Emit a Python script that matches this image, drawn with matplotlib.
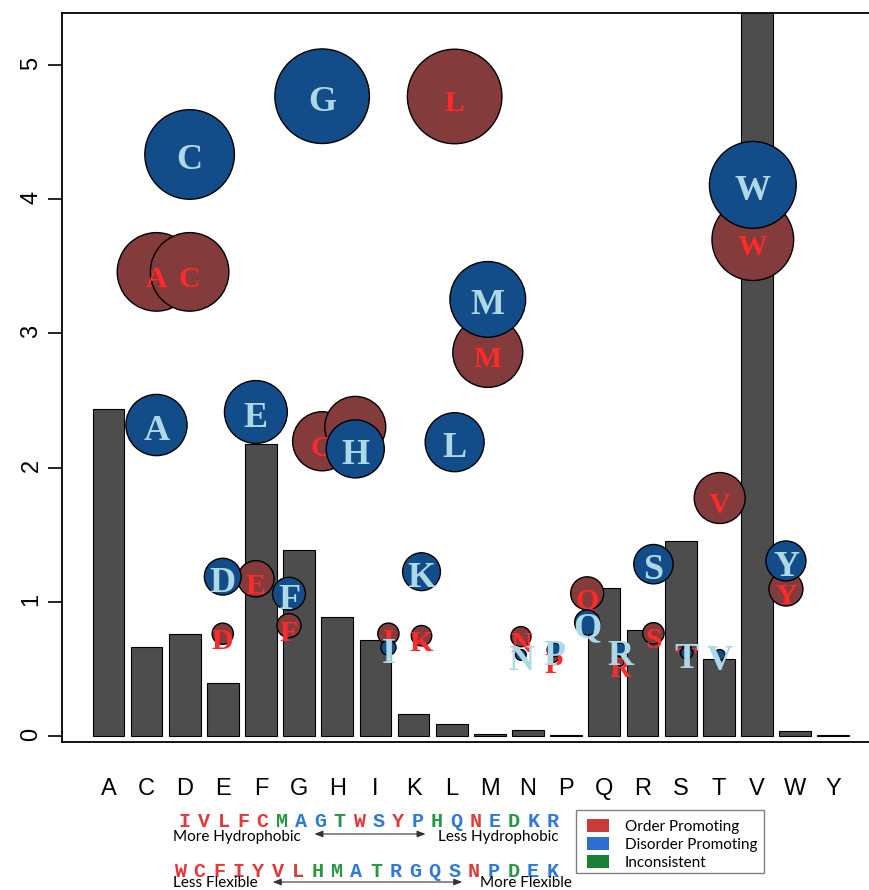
import numpy as np
import matplotlib.pyplot as plt
from matplotlib.patches import Rectangle, FancyArrowPatch

plt.rcParams['font.family'] = ['Liberation Sans', 'DejaVu Sans']

# amino acids along the x axis
residues = ["A", "C", "D", "E", "F", "G", "H", "I", "K", "L",
            "M", "N", "P", "Q", "R", "S", "T", "V", "W", "Y"]

# grey bars
bar_values = [2.44, 0.665, 0.762, 0.395, 2.173, 1.386, 0.884, 0.718, 0.166, 0.087,
              0.013, 0.047, 0.007, 1.105, 0.788, 1.453, 0.576, 6.2, 0.04, 0.007]

# bubbles (blue = disorder, red = order)
disorder_values = [2.317, 4.333, 1.187, 2.414, 1.060, 4.767, 2.139, 0.659, 1.224, 2.189,
                   3.253, 0.604, 0.641, 0.846, 0.641, 1.280, 0.618, 0.604, 4.106, 1.304]
order_values = [3.458, 3.458, 0.762, 1.171, 0.822, 2.196, 2.303, 0.762, 0.747, 4.765,
                2.858, 0.740, 0.580, 1.063, 0.550, 0.765, 0.626, 1.773, 3.698, 1.095]

# scales under the chart
hydro_scale = "IVLFCMAGTWSYPHQNEDKR"
flex_scale = "WCFIYVLHMATRGQSNPDEK"
order_promoting = "WCFIYVLN"
disorder_promoting = "ARGQSPEK"
inconsistent = "HMTD"

legend_labels = ["Order Promoting", "Disorder Promoting", "Inconsistent"]

W, H = 870, 890
fig = plt.figure(figsize=(8.7, 8.9), dpi=100)


def fpos(x, y):
    # pixel position (top-left origin) -> figure fraction
    return x / W, 1 - y / H


def bubble_area(v):
    return np.clip(1099 * (np.asarray(v) - 0.55), 30, None)


ax = fig.add_axes([62 / W, 1 - 742 / H, 824 / W, 729 / H])
xb = 0.7 + 1.2 * np.arange(len(residues))
ax.bar(xb, bar_values, width=1, color='#4d4d4d', edgecolor='black', linewidth=0.8)
ax.set_xlim(-0.76, 25.16)
ax.set_ylim(-0.045, 5.387)
ax.set_xticks(xb, residues)
ax.set_yticks(range(6))
ax.tick_params(axis='x', length=0, pad=26, labelsize=17)
ax.tick_params(axis='y', length=10, width=1.2, pad=4, labelsize=17, labelrotation=90)
for s in ax.spines.values():
    s.set_linewidth(1.3)

bx = ax.twiny()
bx.set_xlim(-1.852, 23.02)
bx.axis('off')
pos = np.arange(1, len(residues) + 1)

bx.scatter(pos, order_values, s=bubble_area(order_values), c='#843b3b',
           edgecolors='black', linewidths=1, zorder=2)
for x, v, r in zip(pos, order_values, residues):
    bx.annotate(r, (x, v), xytext=(0, -10.8), textcoords='offset points',
                ha='center', va='baseline', fontsize=21.5, fontweight='bold',
                family='Liberation Serif', color='#ff2a2a', zorder=3)

bx.scatter(pos, disorder_values, s=bubble_area(disorder_values), c='#124d8a',
           edgecolors='black', linewidths=1, zorder=4)
for x, v, r in zip(pos, disorder_values, residues):
    bx.annotate(r, (x, v), xytext=(0, -10.8), textcoords='offset points',
                ha='center', va='baseline', fontsize=26, fontweight='bold',
                family='Liberation Serif', color='#add8e6', zorder=5)

# colours for the residue scales
letter_col = {}
for ch in order_promoting:
    letter_col[ch] = '#e03a3c'
for ch in disorder_promoting:
    letter_col[ch] = '#2f7ad8'
for ch in inconsistent:
    letter_col[ch] = '#2a9644'

for i, ch in enumerate(hydro_scale):
    fig.text(*fpos(185 + 19.35 * i, 826.7), ch, ha='center', va='baseline',
             family='Liberation Mono', weight='bold', fontsize=14.5, color=letter_col[ch])
for i, ch in enumerate(flex_scale):
    fig.text(*fpos(180 + 19.6 * i, 877), ch, ha='center', va='baseline',
             family='Liberation Mono', weight='bold', fontsize=14.5, color=letter_col[ch])

fig.text(*fpos(173, 840.7), "More Hydrophobic", ha='left', va='baseline', family='Lato', fontsize=11)
fig.text(*fpos(558.5, 840.7), "Less Hydrophobic", ha='right', va='baseline', family='Lato', fontsize=11)
fig.text(*fpos(173, 887), "Less Flexible", ha='left', va='baseline', family='Lato', fontsize=11)
fig.text(*fpos(572, 887), "More Flexible", ha='right', va='baseline', family='Lato', fontsize=11)

for x0, x1, y in [(311.7, 428.3, 834), (270, 465, 882)]:
    fig.add_artist(FancyArrowPatch(fpos(x0, y), fpos(x1, y), transform=fig.transFigure,
                                   arrowstyle='<|-|>,head_length=0.5,head_width=0.2',
                                   mutation_scale=10, lw=0.8, color='#333333'))

# legend
fig.add_artist(Rectangle(fpos(576, 873), 188 / W, 63 / H, transform=fig.transFigure,
                         fill=False, edgecolor='#808080', lw=1))
legend_cols = ['#c93a3a', '#2b6fd2', '#1a7f35']
for i, (lab, col) in enumerate(zip(legend_labels, legend_cols)):
    yc = 825.5 + 18.2 * i
    fig.add_artist(Rectangle(fpos(587, yc + 6.5), 22 / W, 13 / H, transform=fig.transFigure,
                             facecolor=col, edgecolor='none'))
    fig.text(*fpos(625, yc + 5), lab, ha='left', va='baseline', family='Lato', fontsize=11)

fig.savefig('out.png', dpi=100)
